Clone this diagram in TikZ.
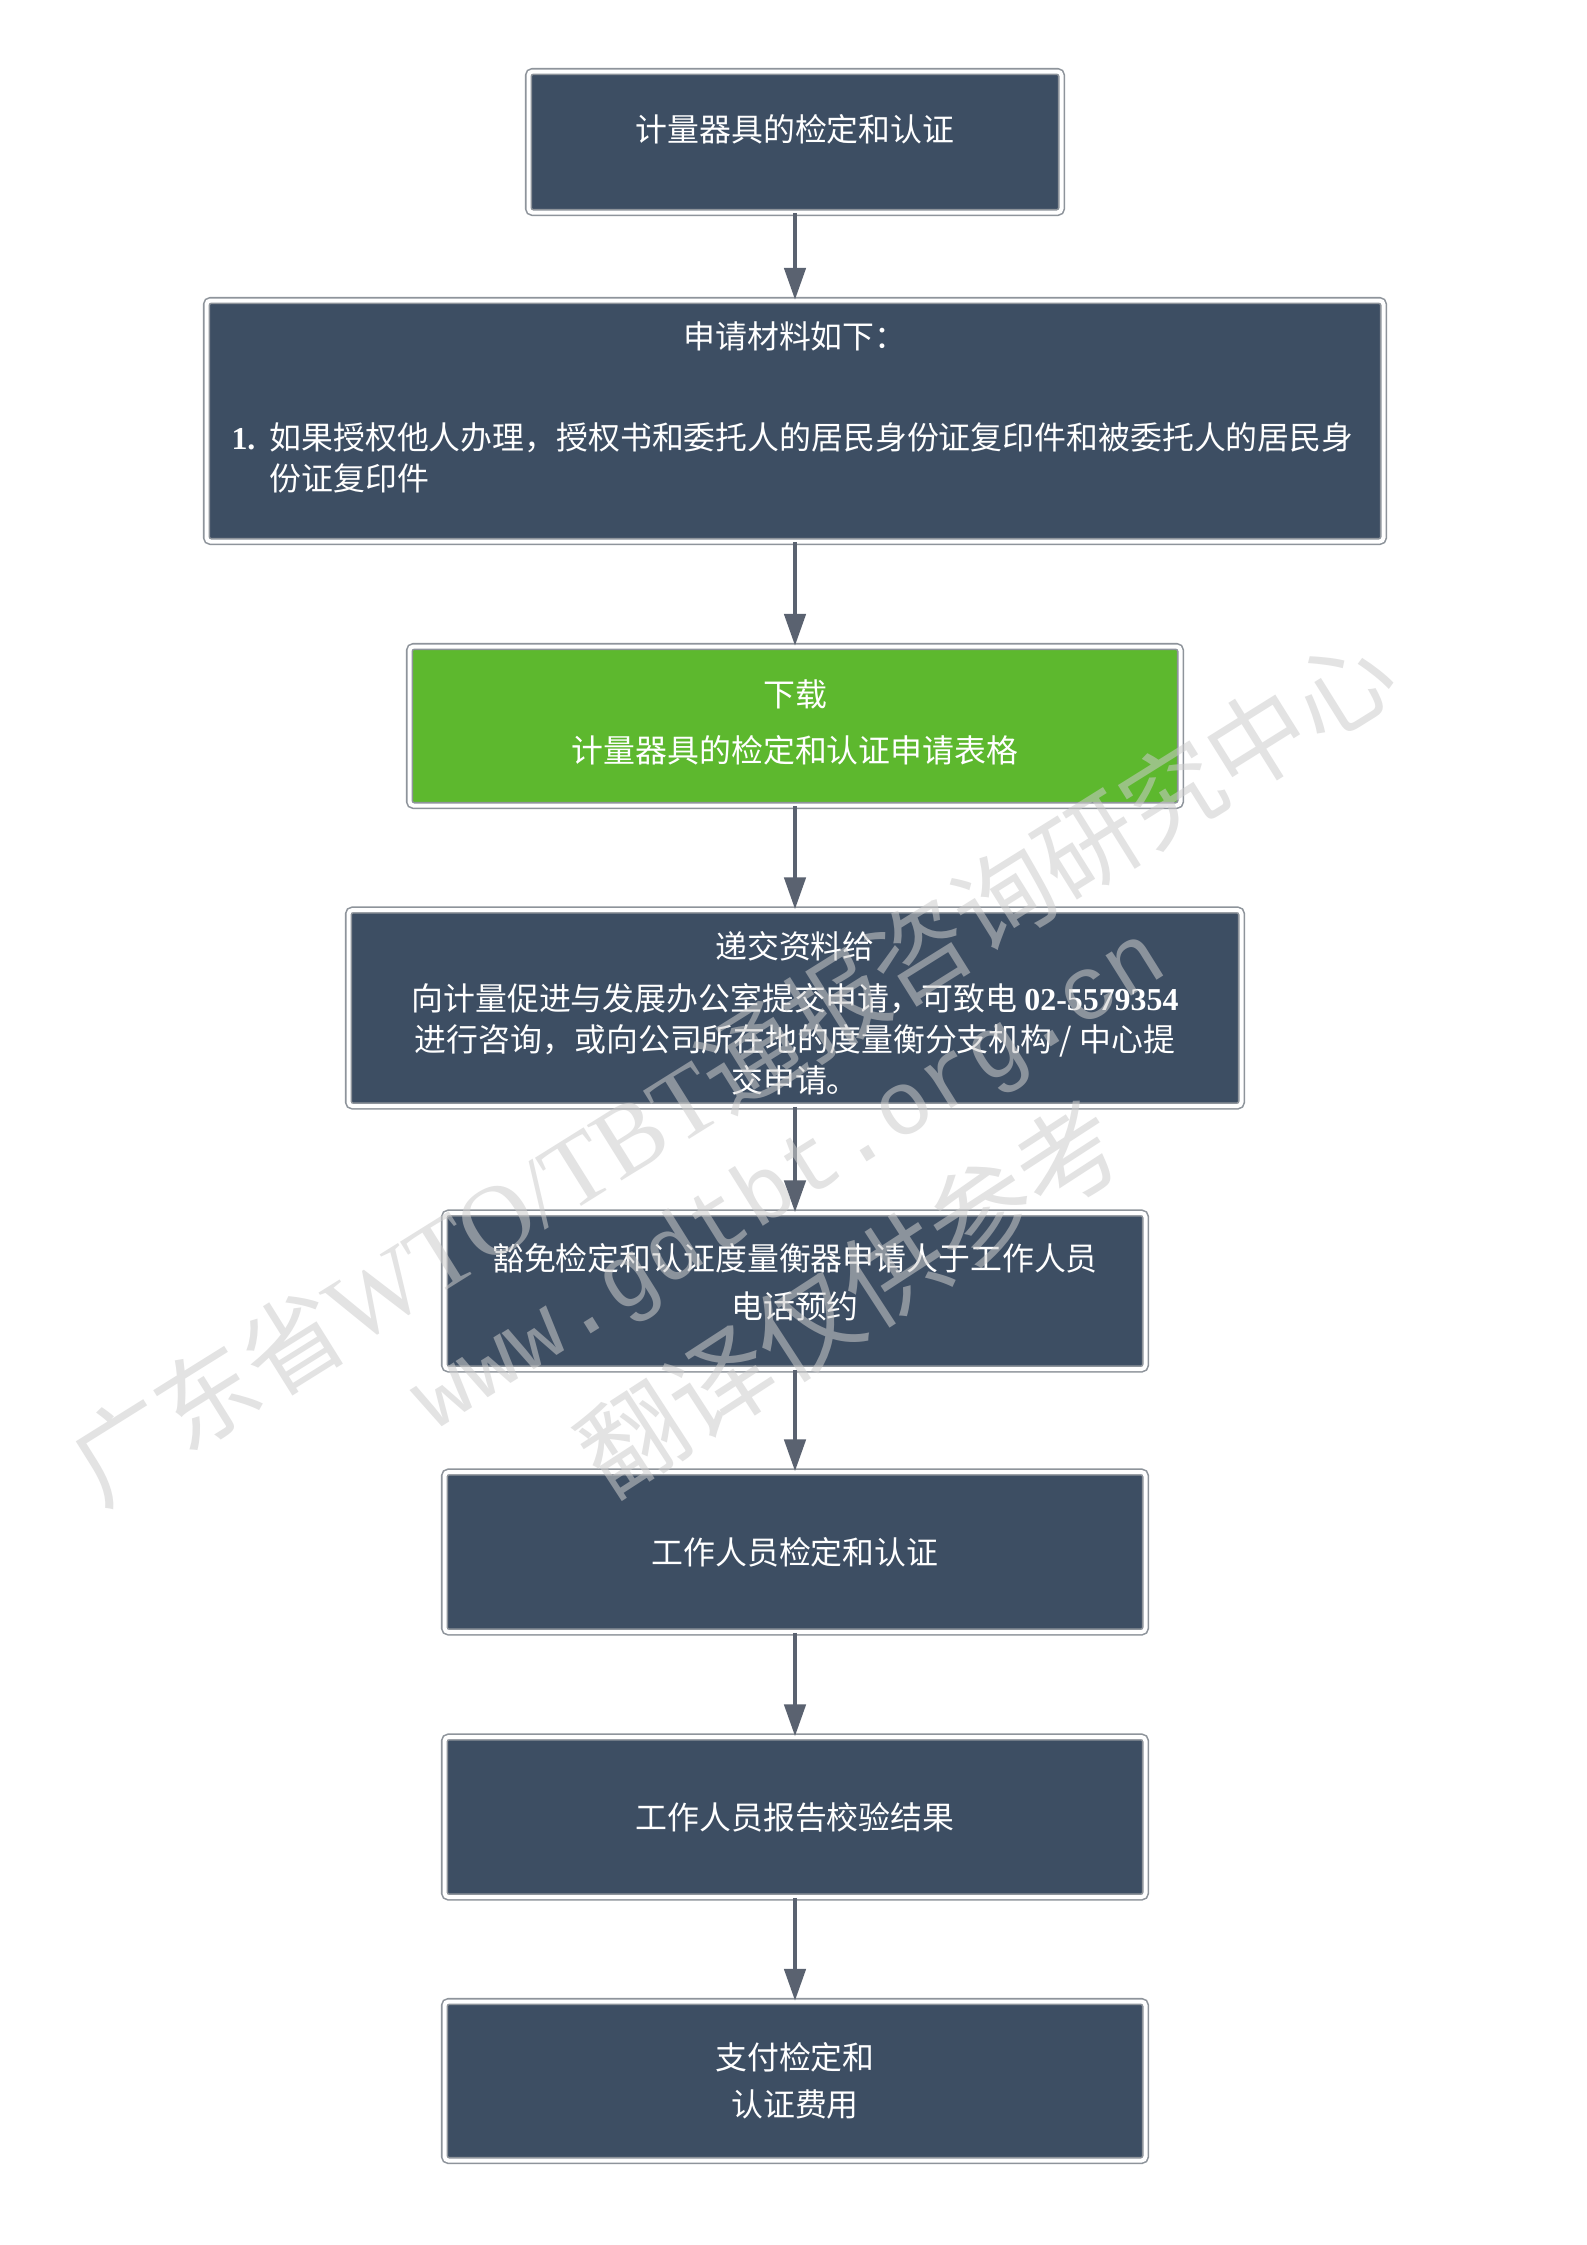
\documentclass[tikz,border=0pt]{standalone}
\usepackage{fontspec}
\setmainfont{Noto Sans CJK SC}
\newfontfamily\numfont{Liberation Serif}
\newfontfamily\wmmono{Liberation Mono}
\usetikzlibrary{arrows.meta}
\newlength\pxl
\setlength\pxl{0.013232cm}
\definecolor{boxblue}{HTML}{3D4E63}
\definecolor{dlgreen}{HTML}{5DB82E}
\definecolor{framegray}{HTML}{8E949B}
\definecolor{arrowgray}{HTML}{5A6270}
\newcommand{\lowpad}[1]{\rule[-#1\pxl]{0pt}{0pt}}
\newcommand{\toppad}[1]{\rule{0pt}{#1\pxl}}
\tikzset{
    stepbox/.style={rectangle, draw=framegray, line width=0.6pt, double=white,
        double distance=4\pxl, rounded corners=1.5pt, fill=boxblue, text=white,
        align=center, inner sep=0pt, font=\fontsize{12}{15.5}\selectfont},
    greenbox/.style={stepbox, fill=dlgreen},
    flow/.style={draw=arrowgray, line width=1.5pt, -{Triangle[length=12pt,width=8pt]}},
    watermark/.style={text=gray!40, opacity=0.55, inner sep=0pt}
}
\begin{document}
\begin{tikzpicture}[x=1\pxl,y=-1\pxl]
    \fill[white] (0,0) rectangle (1587,2245);
    \useasboundingbox (0,0) rectangle (1587,2245);

    \node[stepbox, minimum width=533\pxl, minimum height=141\pxl] (cert) at (795,142)
    {计量器具的检定和认证\lowpad{28}};
    \node[stepbox, minimum width=1177\pxl, minimum height=241\pxl, align=left] (docs) at (795,421)
    {\makebox[1127\pxl]{申请材料如下：}\\[22.5pt]
     \makebox[38\pxl][l]{\numfont\bfseries 1.}如果授权他人办理，授权书和委托人的居民身份证复印件和被委托人的居民身\\
     \hspace*{38\pxl}份证复印件\lowpad{30}};
    \node[greenbox, minimum width=771\pxl, minimum height=159\pxl] (dl) at (795,726)
    {下载\\[5.3pt]计量器具的检定和认证申请表格\lowpad{10}};
    \node[stepbox, minimum width=893\pxl, minimum height=196\pxl] (submit) at (795,1008)
    {\toppad{38}递交资料给\\[4pt]
     向计量促进与发展办公室提交申请，可致电 {\numfont\bfseries 02-5579354}\\
     进行咨询，或向公司所在地的度量衡分支机构 / 中心提\\
     交申请。};
    \node[stepbox, minimum width=701\pxl, minimum height=156\pxl] (appt) at (795,1291)
    {豁免检定和认证度量衡器申请人于工作人员\\[2.3pt]电话预约\lowpad{20}};
    \node[stepbox, minimum width=701\pxl, minimum height=160\pxl] (check) at (795,1552)
    {工作人员检定和认证};
    \node[stepbox, minimum width=701\pxl, minimum height=160\pxl] (report) at (795,1817)
    {工作人员报告校验结果};
    \node[stepbox, minimum width=701\pxl, minimum height=159\pxl] (pay) at (795,2081)
    {支付检定和\\[2.3pt]认证费用};

    \draw[flow] (cert) -- (docs);
    \draw[flow] (docs) -- (dl);
    \draw[flow] (dl) -- (submit);
    \draw[flow] (submit) -- (appt);
    \draw[flow] (appt) -- (check);
    \draw[flow] (check) -- (report);
    \draw[flow] (report) -- (pay);

    \node[watermark, rotate=32, font=\fontsize{37.5}{37.5}\selectfont] (wmname) at (732,1068)
    {广东省{\numfont WTO/TBT}通报咨询研究中心};
    \node[watermark, rotate=32, font=\wmmono\fontsize{34}{34}\selectfont] (wmsite) at (790,1182)
    {www.gdtbt.org.cn};
    \node[watermark, rotate=33, font=\fontsize{39}{39}\selectfont] (wmnote) at (850,1297)
    {翻译仅供参考};
\end{tikzpicture}
\end{document}
